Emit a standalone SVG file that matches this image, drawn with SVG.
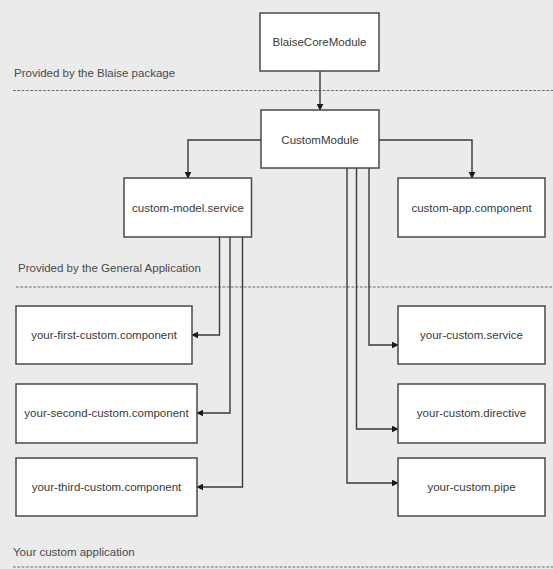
<svg xmlns="http://www.w3.org/2000/svg" width="553" height="569" viewBox="0 0 553 569">
<style>
.bg{fill:#ebebeb}
.box{fill:#ffffff;stroke:#4a4a4a;stroke-width:1.5}
.t{font-family:"Liberation Sans",Arial,sans-serif;font-size:11.5px;fill:#3a3a3a;text-anchor:middle;dominant-baseline:central}
.lbl{font-family:"Liberation Sans",Arial,sans-serif;font-size:11.5px;fill:#4a4a4a}
.sep{stroke:#6a6a6a;stroke-width:1;stroke-dasharray:2.8 1.5;fill:none}
.c{fill:none;stroke:#3a3a3a;stroke-width:1.4;marker-end:url(#ah)}
</style>
<defs>
<marker id="ah" viewBox="0 0 10 10" refX="9" refY="5" markerWidth="7" markerHeight="7" markerUnits="userSpaceOnUse" orient="auto">
<path d="M0,0 L10,5 L0,10 Z" fill="#1a1a1a"/>
</marker>
</defs>
<rect class="bg" x="0" y="0" width="553" height="569"/>
<g id="separators">
<text class="lbl" x="14" y="77">Provided by the Blaise package</text>
<line class="sep" x1="13" y1="90.5" x2="553" y2="90.5"/>
<text class="lbl" x="18" y="272">Provided by the General Application</text>
<line class="sep" x1="16" y1="287" x2="553" y2="287"/>
<text class="lbl" x="13" y="556">Your custom application</text>
<line class="sep" x1="13" y1="567" x2="553" y2="567"/>
</g>
<g id="connectors">
<path class="c" d="M320,71 V110"/>
<path class="c" d="M261,140 H188 V178"/>
<path class="c" d="M379,140 H472 V178"/>
<path class="c" d="M219.5,237 V335 H192"/>
<path class="c" d="M230,237 V413 H197"/>
<path class="c" d="M242.5,237 V487 H197"/>
<path class="c" d="M369,168 V345 H398"/>
<path class="c" d="M356.5,168 V429 H398"/>
<path class="c" d="M347,168 V483 H398"/>
</g>
<g id="blaise-core-module"><rect class="box" x="260" y="13" width="119" height="58"/><text class="t" x="319.5" y="42">BlaiseCoreModule</text></g>
<g id="custom-module"><rect class="box" x="261" y="110" width="118" height="58"/><text class="t" x="320" y="140">CustomModule</text></g>
<g id="custom-model-service"><rect class="box" x="124" y="178" width="127.5" height="59"/><text class="t" x="188" y="208">custom-model.service</text></g>
<g id="custom-app-component"><rect class="box" x="398" y="178" width="147" height="59"/><text class="t" x="471.5" y="208">custom-app.component</text></g>
<g id="your-first-custom-component"><rect class="box" x="16" y="306" width="176" height="58"/><text class="t" x="104" y="335">your-first-custom.component</text></g>
<g id="your-second-custom-component"><rect class="box" x="16" y="384" width="181" height="59"/><text class="t" x="106.5" y="413">your-second-custom.component</text></g>
<g id="your-third-custom-component"><rect class="box" x="16" y="458" width="181" height="58"/><text class="t" x="106.5" y="487">your-third-custom.component</text></g>
<g id="your-custom-service"><rect class="box" x="398" y="306" width="147" height="58"/><text class="t" x="471.5" y="335">your-custom.service</text></g>
<g id="your-custom-directive"><rect class="box" x="398" y="384" width="147" height="59"/><text class="t" x="471.5" y="413">your-custom.directive</text></g>
<g id="your-custom-pipe"><rect class="box" x="398" y="458" width="147" height="58"/><text class="t" x="471.5" y="487">your-custom.pipe</text></g>
</svg>
